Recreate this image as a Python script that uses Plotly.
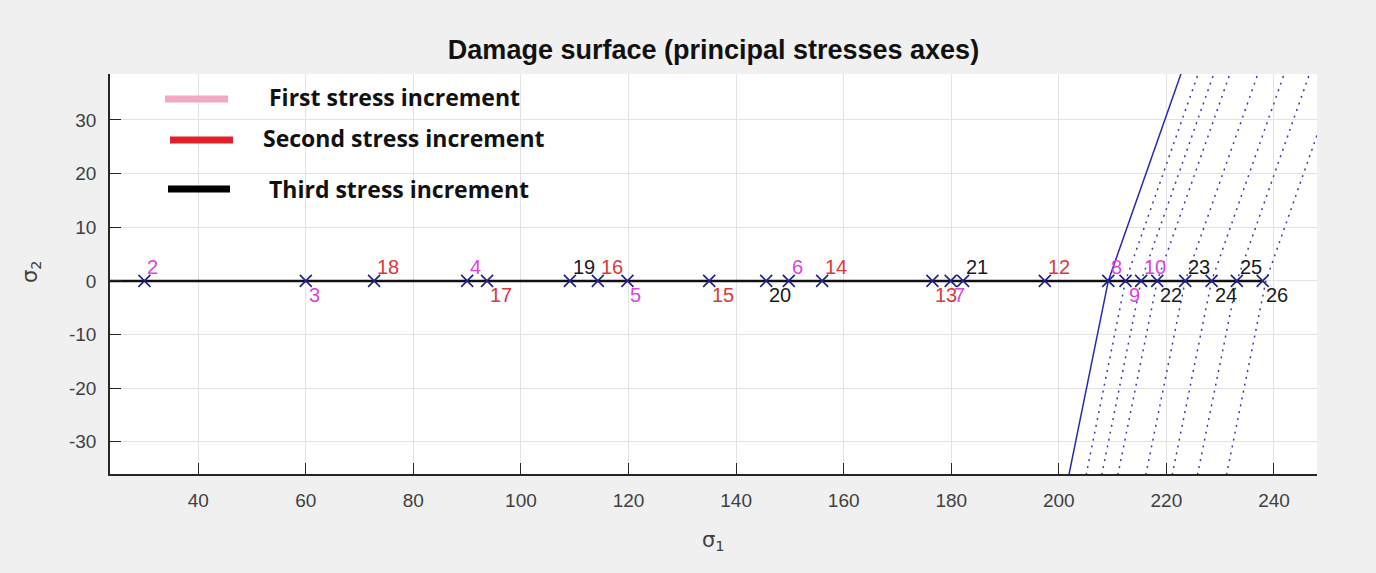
import plotly.graph_objects as go

# Stress states (sigma_1, with sigma_2 = 0) reached in each load increment
first_ids = [2, 3, 4, 5, 6, 7, 8, 9, 10]
first_sigma1 = [30.0, 60.0, 90.0, 119.8, 149.8, 179.9, 209.2, 212.4, 215.3]

second_ids = [12, 13, 14, 15, 16, 17, 18]
second_sigma1 = [197.4, 176.5, 156.0, 135.0, 114.3, 93.7, 72.7]

third_ids = [19, 20, 21, 22, 23, 24, 25, 26]
third_sigma1 = [109.1, 145.6, 182.2, 218.3, 223.5, 228.4, 233.1, 237.9]

load_origin = 0.0

# Damage surface: initial surface and the updated (grown) surfaces,
# given by where they cross sigma_2 = 0 plus a common profile shape
initial_surface_anchor = 209.2
updated_surface_anchors = [212.4, 215.3, 218.3, 223.5, 228.4, 233.1, 238.5]
profile_sigma2 = [-40.0, 0.0, 40.0]
profile_dsigma1 = [-8.1, 0.0, 14.0]

legend_labels = ["First stress increment", "Second stress increment", "Third stress increment"]

x_ticks = list(range(40, 241, 20))
y_ticks = list(range(-30, 31, 10))

# ---- styling ----
W, H = 1376, 573
ML, MR, MT, MB = 110, 59, 74, 99
PW, PH = W - ML - MR, H - MT - MB

PINK_TXT = "#dc45dc"
RED_TXT = "#dd3838"
BLACK_TXT = "#1a1a1a"
MARKER_COL = "#1f1f8c"
SURF_COL = "#2828b4"
AXIS_TXT = "#404040"


def px_to_dom(px, py):
    return (px - ML) / PW, (MT + PH - py) / PH


fig = go.Figure()

# updated surfaces (dotted)
for a in updated_surface_anchors:
    fig.add_trace(go.Scatter(
        x=[a + d for d in profile_dsigma1], y=profile_sigma2, mode="lines",
        line=dict(color="#3a3ab0", width=1.5, dash="2px,5px"),
        hoverinfo="skip", showlegend=False))

# initial surface (solid)
fig.add_trace(go.Scatter(
    x=[initial_surface_anchor + d for d in profile_dsigma1], y=profile_sigma2,
    mode="lines", line=dict(color=SURF_COL, width=1.5),
    hoverinfo="skip", showlegend=False))

# loading path along sigma_2 = 0
all_sigma1 = first_sigma1 + second_sigma1 + third_sigma1
fig.add_trace(go.Scatter(
    x=[load_origin, max(all_sigma1)], y=[0, 0], mode="lines",
    line=dict(color="#111111", width=2.5), hoverinfo="skip", showlegend=False))

# stress points
fig.add_trace(go.Scatter(
    x=all_sigma1, y=[0] * len(all_sigma1), mode="markers",
    marker=dict(symbol="x-thin", size=12, color=MARKER_COL,
                line=dict(width=1.6, color=MARKER_COL)),
    showlegend=False))

# point numbers
annotations = []
for ids, vals, col, flip in [(first_ids, first_sigma1, PINK_TXT, False),
                             (second_ids, second_sigma1, RED_TXT, False),
                             (third_ids, third_sigma1, BLACK_TXT, True)]:
    for n, v in zip(ids, vals):
        above = (n % 2 == 0) != flip
        annotations.append(dict(
            x=v, y=0, xref="x", yref="y", text=str(n), showarrow=False,
            xanchor="left", yanchor="middle", xshift=1,
            yshift=14 if above else -14,
            font=dict(family="Liberation Sans, Arial", size=20, color=col)))

# hand-made legend
legend_cols = ["#f4a7c3", "#e0202a", "#000000"]
legend_line_px = [(165, 228, 99), (170, 233, 140), (168, 230, 189)]
legend_text_px = [(267, 97), (261, 138), (267, 189)]
shapes = []
for (x0, x1, yy), col in zip(legend_line_px, legend_cols):
    a0, b0 = px_to_dom(x0, yy)
    a1, _ = px_to_dom(x1, yy)
    shapes.append(dict(type="line", xref="paper", yref="paper",
                       x0=a0, x1=a1, y0=b0, y1=b0,
                       line=dict(color=col, width=7)))
for (tx, ty), lab in zip(legend_text_px, legend_labels):
    a, b = px_to_dom(tx, ty)
    annotations.append(dict(
        x=a, y=b, xref="paper", yref="paper", text="<b>" + lab + "</b>",
        showarrow=False, xanchor="left", yanchor="middle",
        font=dict(family="Open Sans", size=23, color="#111111")))

# axis titles
ax, ay = px_to_dom(713, 541)
annotations.append(dict(x=ax, y=ay, xref="paper", yref="paper",
                        text="σ<sub>1</sub>", showarrow=False,
                        xanchor="center", yanchor="middle",
                        font=dict(family="DejaVu Sans", size=21, color=AXIS_TXT)))
bx, by = px_to_dom(31, 272)
annotations.append(dict(x=bx, y=by, xref="paper", yref="paper",
                        text="σ<sub>2</sub>", showarrow=False, textangle=-90,
                        xanchor="center", yanchor="middle",
                        font=dict(family="DejaVu Sans", size=21, color=AXIS_TXT)))

axis_common = dict(
    showgrid=True, gridcolor="#e2e2e2", gridwidth=1, zeroline=False,
    showline=True, linecolor="#262626", linewidth=1.5, mirror=False,
    ticks="inside", tickcolor="#262626", tickwidth=1.2, ticklen=11,
    tickfont=dict(family="Liberation Sans, Arial", size=19, color=AXIS_TXT),
    ticklabelstandoff=8,
)

fig.update_layout(
    width=W, height=H,
    margin=dict(l=ML, r=MR, t=MT, b=MB),
    paper_bgcolor="#f0f0f0", plot_bgcolor="#ffffff",
    title=dict(text="<b>Damage surface (principal stresses axes)</b>",
               x=(ML + PW / 2) / W, xanchor="center",
               y=1 - 50 / H, yanchor="middle", yref="container",
               font=dict(family="Liberation Sans, Arial", size=27, color="#111111")),
    xaxis=dict(range=[23.6, 248.0], tickvals=x_ticks,
               ticktext=[str(v) for v in x_ticks], **axis_common),
    yaxis=dict(range=[-36.0, 38.57], tickvals=y_ticks,
               ticktext=[str(v) for v in y_ticks], **axis_common),
    shapes=shapes,
    annotations=annotations,
)

fig.write_html("out.html")
